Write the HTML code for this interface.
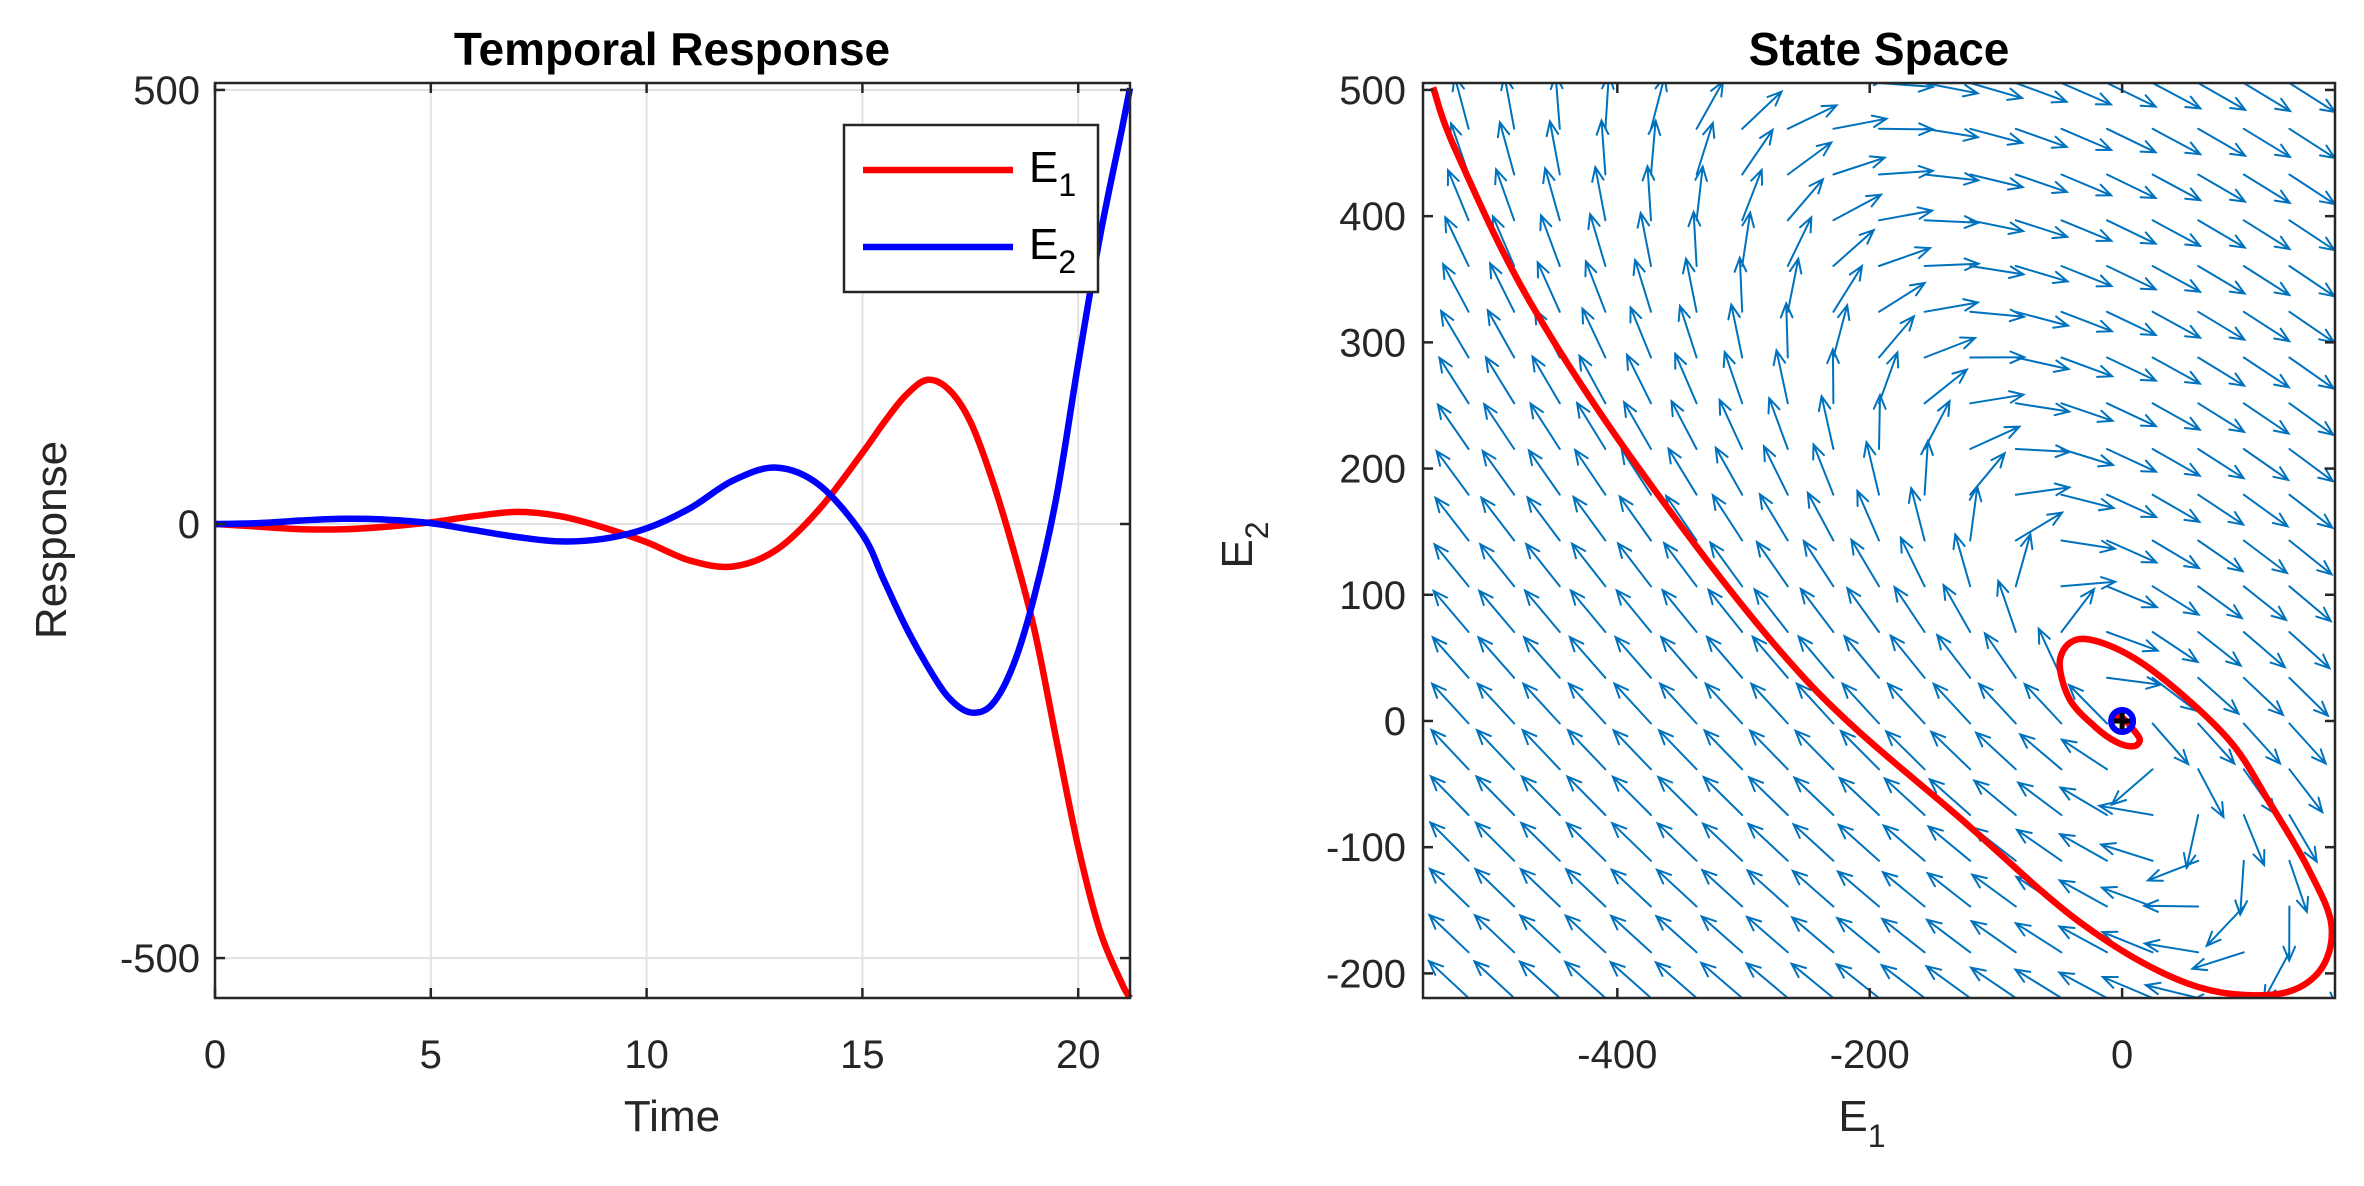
<!DOCTYPE html>
<html><head><meta charset="utf-8">
<style>
html,body{margin:0;padding:0;background:#fff;}
svg{display:block;font-family:"Liberation Sans",Arial,sans-serif;}
</style></head>
<body>
<svg id="fig" width="2364" height="1186" viewBox="0 0 2364 1186" xmlns="http://www.w3.org/2000/svg"></svg>
<script>
// ---- data ----
const timeValues = [0,1,2,3,4,5,6,7,8,9,10,11,12,13,14,15,15.5,16,16.5,17,17.5,18,18.5,19,19.5,20,20.5,21,21.2];
const e1Values = [0,-3,-6,-6,-3,2,9,14,9,-4,-21,-42,-49,-30,17,82,117,148,166,155,118,52,-30,-125,-250,-372,-468,-528,-546];
const e2Values = [0,1,4,6,5,1,-7,-15,-20,-17,-5,18,50,65,45,-12,-65,-118,-163,-200,-217,-208,-162,-80,32,185,330,452,502];
const leftXTicks = [0,5,10,15,20];
const leftYTicks = [-500,0,500];
const rightXTicks = [-400,-200,0];
const rightYTicks = [-200,-100,0,100,200,300,400,500];
const systemMatrix = [0.988,0.893,-1.080,-0.449];
const quiverCount = [21,21];

const NS="http://www.w3.org/2000/svg";
const svg=document.getElementById('fig');
function mk(tag,attrs,parent){const e=document.createElementNS(NS,tag);for(const k in attrs)e.setAttribute(k,attrs[k]);(parent||svg).appendChild(e);return e;}

// ---- left axes ----
const L={x0:215,x1:1130,y0:83,y1:998,xmin:0,xmax:21.2,ymin:-546,ymax:508};
const lx=v=>L.x0+(v-L.xmin)/(L.xmax-L.xmin)*(L.x1-L.x0);
const ly=v=>L.y1-(v-L.ymin)/(L.ymax-L.ymin)*(L.y1-L.y0);

const gL=mk('g',{});


leftXTicks.forEach(t=>{const g=mk('line',{x1:lx(t),x2:lx(t),y1:L.y0,y2:L.y1,stroke:'#e3e3e3','stroke-width':2},gL);});
leftYTicks.forEach(t=>{const g=mk('line',{x1:L.x0,x2:L.x1,y1:ly(t),y2:ly(t),stroke:'#e3e3e3','stroke-width':2},gL);});

// Catmull-Rom smooth
function smoothPath(pts){let d='M'+pts[0][0].toFixed(1)+' '+pts[0][1].toFixed(1);for(let i=0;i<pts.length-1;i++){const p0=pts[Math.max(0,i-1)],p1=pts[i],p2=pts[i+1],p3=pts[Math.min(pts.length-1,i+2)];const c1=[p1[0]+(p2[0]-p0[0])/6,p1[1]+(p2[1]-p0[1])/6],c2=[p2[0]-(p3[0]-p1[0])/6,p2[1]-(p3[1]-p1[1])/6];d+=' C'+c1[0].toFixed(1)+' '+c1[1].toFixed(1)+' '+c2[0].toFixed(1)+' '+c2[1].toFixed(1)+' '+p2[0].toFixed(1)+' '+p2[1].toFixed(1);}return d;}

const clipL=mk('clipPath',{id:'clipL'});mk('rect',{x:L.x0,y:L.y0-4,width:L.x1-L.x0+4,height:L.y1-L.y0+8},clipL);
const p1=mk('path',{d:smoothPath(timeValues.map((t,i)=>[lx(t),ly(e1Values[i])])),fill:'none',stroke:'#ff0000','stroke-width':6.5,'clip-path':'url(#clipL)'},gL);

const p2=mk('path',{d:smoothPath(timeValues.map((t,i)=>[lx(t),ly(e2Values[i])])),fill:'none',stroke:'#0000ff','stroke-width':6.5,'clip-path':'url(#clipL)'},gL);


const boxL=mk('rect',{x:L.x0,y:L.y0,width:L.x1-L.x0,height:L.y1-L.y0,fill:'none',stroke:'#262626','stroke-width':2.5},gL);

leftXTicks.forEach(t=>{mk('line',{x1:lx(t),x2:lx(t),y1:L.y1,y2:L.y1-10,stroke:'#262626','stroke-width':2.5},gL);mk('line',{x1:lx(t),x2:lx(t),y1:L.y0,y2:L.y0+10,stroke:'#262626','stroke-width':2.5},gL);
 const tx=mk('text',{x:lx(t),y:1068,'font-size':40,'text-anchor':'middle',fill:'#262626'},gL);tx.textContent=t;});
leftYTicks.forEach(t=>{mk('line',{x1:L.x0,x2:L.x0+10,y1:ly(t),y2:ly(t),stroke:'#262626','stroke-width':2.5},gL);mk('line',{x1:L.x1,x2:L.x1-10,y1:ly(t),y2:ly(t),stroke:'#262626','stroke-width':2.5},gL);
 const tx=mk('text',{x:200,y:ly(t)+14,'font-size':40,'text-anchor':'end',fill:'#262626'},gL);tx.textContent=t;});

const t1=mk('text',{x:672,y:65,'font-size':46,'font-weight':'bold','text-anchor':'middle',fill:'#000'});t1.textContent='Temporal Response';

const xl1=mk('text',{x:672,y:1131,'font-size':44,'text-anchor':'middle',fill:'#262626'});xl1.textContent='Time';

const yl1=mk('text',{x:0,y:0,'font-size':44,'text-anchor':'middle',fill:'#262626',transform:'translate(66,540) rotate(-90)'});yl1.textContent='Response';


// legend
const lg=mk('g',{});
mk('rect',{x:844,y:125,width:254,height:167,fill:'#fff',stroke:'#262626','stroke-width':2.5},lg);
const le1=mk('line',{x1:863,x2:1013,y1:170,y2:170,stroke:'#ff0000','stroke-width':6.5},lg);
const le2=mk('line',{x1:863,x2:1013,y1:247,y2:247,stroke:'#0000ff','stroke-width':6.5},lg);
const lt1=mk('text',{x:1029,y:182,'font-size':44,fill:'#000'},lg);lt1.innerHTML='E<tspan dy="14" font-size="32">1</tspan>';
const lt2=mk('text',{x:1029,y:259,'font-size':44,fill:'#000'},lg);lt2.innerHTML='E<tspan dy="14" font-size="32">2</tspan>';

// ---- right axes ----
const R={x0:1423,x1:2335,y0:83,y1:998,xmin:-554,xmax:168.7,ymin:-219.5,ymax:505.5};
const rx=v=>R.x0+(v-R.xmin)/(R.xmax-R.xmin)*(R.x1-R.x0);
const ry=v=>R.y1-(v-R.ymin)/(R.ymax-R.ymin)*(R.y1-R.y0);
const gR=mk('g',{});
const clipR=mk('clipPath',{id:'clipR'});mk('rect',{x:R.x0,y:R.y0,width:R.x1-R.x0,height:R.y1-R.y0},clipR);
const qg=mk('g',{'clip-path':'url(#clipR)',stroke:'#0072BD','stroke-width':2,fill:'none','stroke-linecap':'round'},gR);

const nx=quiverCount[0],ny=quiverCount[1];
for(let i=0;i<nx;i++){for(let j=0;j<ny;j++){
 const x=R.xmin+(R.xmax-R.xmin)*i/(nx-1), y=R.ymin+(R.ymax-R.ymin)*j/(ny-1);
 const u=systemMatrix[0]*x+systemMatrix[1]*y, v=systemMatrix[2]*x+systemMatrix[3]*y;
 const m=Math.hypot(u,v)||1;
 const L0=54;
 const X0=rx(x),Y0=ry(y),dx=u/m*L0,dy=-v/m*L0;const X1=X0+dx,Y1=Y0+dy;
 const ang=Math.atan2(dy,dx),h=15,a=0.4;
 const ar=mk('path',{d:`M${X0.toFixed(1)} ${Y0.toFixed(1)} L${X1.toFixed(1)} ${Y1.toFixed(1)} M${(X1-h*Math.cos(ang-a)).toFixed(1)} ${(Y1-h*Math.sin(ang-a)).toFixed(1)} L${X1.toFixed(1)} ${Y1.toFixed(1)} L${(X1-h*Math.cos(ang+a)).toFixed(1)} ${(Y1-h*Math.sin(ang+a)).toFixed(1)}`},qg);
 
 
}}
const clipR2=mk('clipPath',{id:'clipR2'});mk('rect',{x:R.x0-6,y:R.y0-6,width:R.x1-R.x0+12,height:R.y1-R.y0+12},clipR2);
const traj=mk('path',{d:smoothPath(timeValues.map((t,i)=>[rx(e1Values[i]),ry(e2Values[i])])),fill:'none',stroke:'#ff0000','stroke-width':6.5,'clip-path':'url(#clipR2)'},gR);

const om=mk('circle',{cx:rx(0),cy:ry(0),r:11,fill:'none',stroke:'#0000ff','stroke-width':6},gR);

const op=mk('path',{d:`M${rx(0)-8} ${ry(0)} H${rx(0)+8} M${rx(0)} ${ry(0)-8} V${ry(0)+8}`,stroke:'#000','stroke-width':5},gR);

const boxR=mk('rect',{x:R.x0,y:R.y0,width:R.x1-R.x0,height:R.y1-R.y0,fill:'none',stroke:'#262626','stroke-width':2.5},gR);

rightXTicks.forEach(t=>{mk('line',{x1:rx(t),x2:rx(t),y1:R.y1,y2:R.y1-10,stroke:'#262626','stroke-width':2.5},gR);mk('line',{x1:rx(t),x2:rx(t),y1:R.y0,y2:R.y0+10,stroke:'#262626','stroke-width':2.5},gR);
 const tx=mk('text',{x:rx(t),y:1068,'font-size':40,'text-anchor':'middle',fill:'#262626'},gR);tx.textContent=t;});
rightYTicks.forEach(t=>{mk('line',{x1:R.x0,x2:R.x0+10,y1:ry(t),y2:ry(t),stroke:'#262626','stroke-width':2.5},gR);mk('line',{x1:R.x1,x2:R.x1-10,y1:ry(t),y2:ry(t),stroke:'#262626','stroke-width':2.5},gR);
 const tx=mk('text',{x:1406,y:ry(t)+14,'font-size':40,'text-anchor':'end',fill:'#262626'},gR);tx.textContent=t;});
const t2=mk('text',{x:1879,y:65,'font-size':46,'font-weight':'bold','text-anchor':'middle',fill:'#000'});t2.textContent='State Space';

const xl2=mk('text',{x:1862,y:1131,'font-size':44,'text-anchor':'middle',fill:'#262626'});xl2.innerHTML='E<tspan dy="16" font-size="32">1</tspan>';

const yl2=mk('text',{x:0,y:0,'font-size':44,'text-anchor':'middle',fill:'#262626',transform:'translate(1252,545) rotate(-90)'});yl2.innerHTML='E<tspan dy="16" font-size="32">2</tspan>';

</script>
</body></html>
